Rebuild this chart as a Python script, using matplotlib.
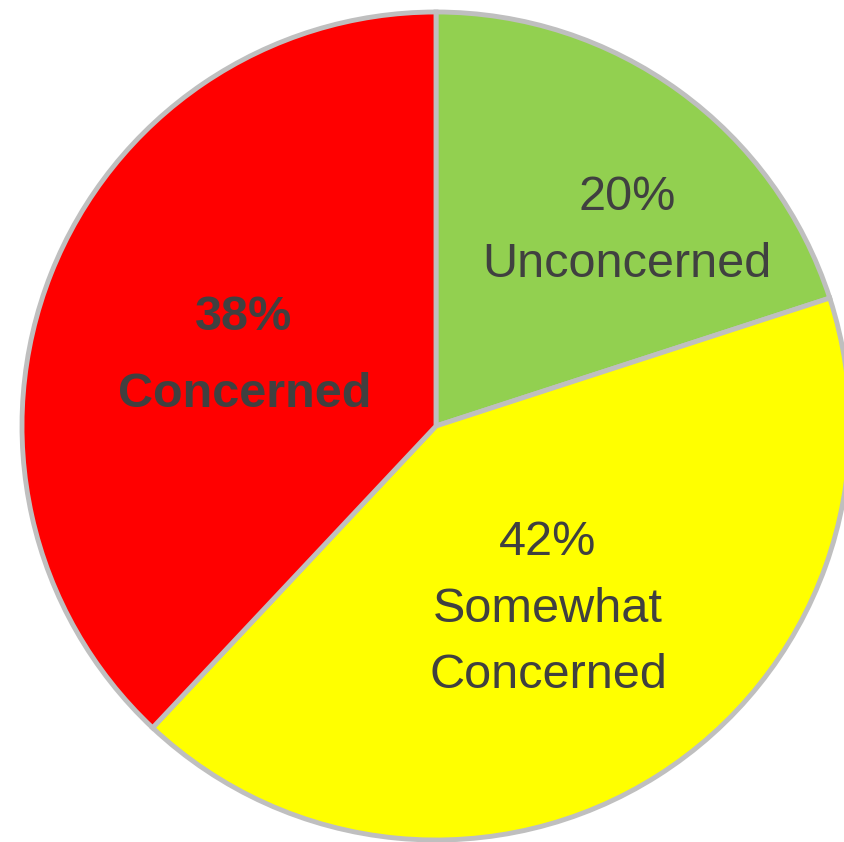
import matplotlib.pyplot as plt

# pie data, clockwise from 12 o'clock
labels = ["Unconcerned", "Somewhat\nConcerned", "Concerned"]
shares = [20, 42, 38]
colors = ["#92D050", "#FFFF00", "#FF0000"]

W, H = 844, 842
fig = plt.figure(figsize=(W / 100, H / 100), dpi=100)
ax = fig.add_axes([0, 0, 1, 1])

cx, cy, r = 436, H - 426, 414
ax.pie(shares, colors=colors, startangle=90, counterclock=False,
       center=(cx, cy), radius=r,
       wedgeprops=dict(edgecolor="#BFBFBF", linewidth=3.5))
ax.set_xlim(0, W)
ax.set_ylim(0, H)
ax.set_aspect("equal")
ax.axis("off")

txt = dict(ha="center", va="baseline", color="#404040",
           family=["Liberation Sans", "DejaVu Sans"], fontsize=35)

# label text, baselines (pixels from top)
ax.text(627, H - 210, "20%", **txt)
ax.text(627, H - 277, "Unconcerned", **txt)
ax.text(244, H - 330, "38%", fontweight="bold", **txt)
ax.text(245, H - 407, "Concerned", fontweight="bold", **txt)
ax.text(548, H - 555, "42%", **txt)
ax.text(548, H - 622, "Somewhat", **txt)
ax.text(548, H - 688, "Concerned", **txt)

fig.savefig("out.png", dpi=100)
